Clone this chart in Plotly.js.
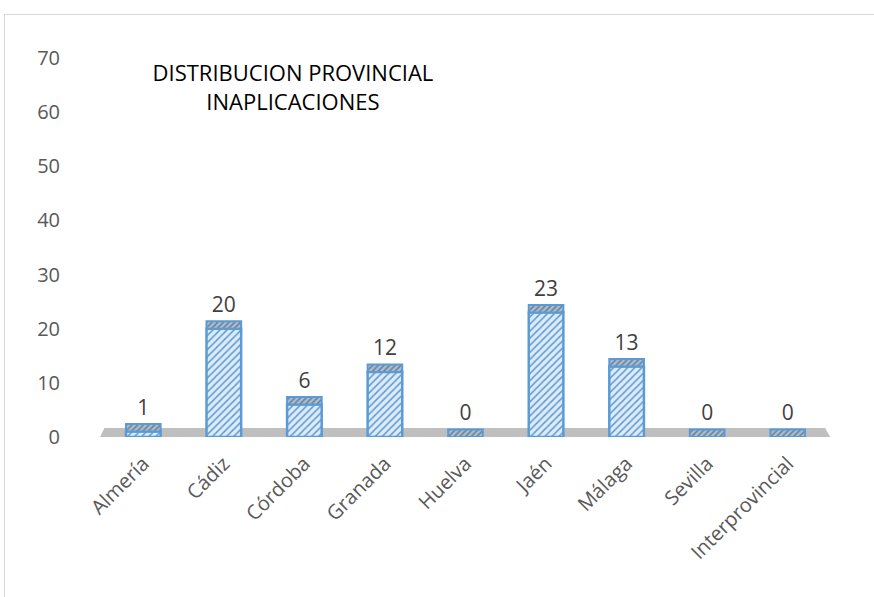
<!DOCTYPE html>
<html>
<head>
<meta charset="utf-8">
<script src="https://cdn.plot.ly/plotly-3.0.1.min.js"></script>
<style>
html,body{margin:0;padding:0;background:#fff;overflow:hidden;}
#frame{position:absolute;left:4px;top:14px;width:900px;height:620px;border:1.5px solid #d9d9d9;box-sizing:border-box;}
#chart{position:absolute;left:0;top:0;width:874px;height:597px;}
</style>
</head>
<body>
<div id="frame"></div>
<div id="chart"></div>
<script>
const categories = ['Almería','Cádiz','Córdoba','Granada','Huelva','Jaén','Málaga','Sevilla','Interprovincial'];
const values = [1, 20, 6, 12, 0, 23, 13, 0, 0];
const yTicks = [0, 10, 20, 30, 40, 50, 60, 70];
const titleText = 'DISTRIBUCION PROVINCIAL<br>INAPLICACIONES';

const capHeight = 1.4;
const front = {
  type: 'bar', x: categories, y: values,
  marker: {
    color: '#deebf7',
    pattern: {shape: '/', fgcolor: '#5b9bd5', bgcolor: '#deebf7', size: 5, solidity: 0.3},
    line: {color: '#5b9bd5', width: 2.5}
  },
  hoverinfo: 'skip', showlegend: false
};
const cap = {
  type: 'bar', x: categories, y: values.map(() => capHeight), base: values,
  marker: {
    color: '#9fb3c8',
    pattern: {shape: '/', fgcolor: '#6f7f90', bgcolor: '#a9bfd6', size: 4, solidity: 0.4},
    line: {color: '#5b9bd5', width: 2}
  },
  text: values.map(String), textposition: 'outside', cliponaxis: false,
  textfont: {family: 'Open Sans', size: 21, color: '#404040'},
  hoverinfo: 'skip', showlegend: false
};

const layout = {
  width: 874, height: 597,
  margin: {l: 103, r: 46, t: 58, b: 160},
  paper_bgcolor: 'rgba(0,0,0,0)', plot_bgcolor: 'rgba(0,0,0,0)',
  barmode: 'overlay', bargap: 0.57,
  title: {text: titleText, x: 0.262, xref: 'paper', xanchor: 'center', y: 0.864, yanchor: 'middle',
          font: {family: 'Open Sans', size: 22, color: '#000'}},
  xaxis: {
    tickangle: -45, showline: false, showgrid: false, zeroline: false, ticks: '',
    ticklabelstandoff: 10,
    tickfont: {family: 'Open Sans', size: 20, color: '#595959'}
  },
  yaxis: {
    range: [0, 70], tickvals: yTicks, showline: false, showgrid: false, zeroline: false,
    ticks: '', ticklabelstandoff: 42,
    tickfont: {family: 'Open Sans', size: 20, color: '#595959'}
  },
  shapes: [{
    type: 'path', xref: 'paper', yref: 'paper', layer: 'below',
    path: 'M -0.004,0 L 1.003,0 L 0.996,0.024 L 0.002,0.024 Z',
    fillcolor: '#bfbfbf', line: {width: 0}
  }]
};

Plotly.newPlot('chart', [front, cap], layout, {displayModeBar: false, staticPlot: true});
</script>
</body>
</html>
